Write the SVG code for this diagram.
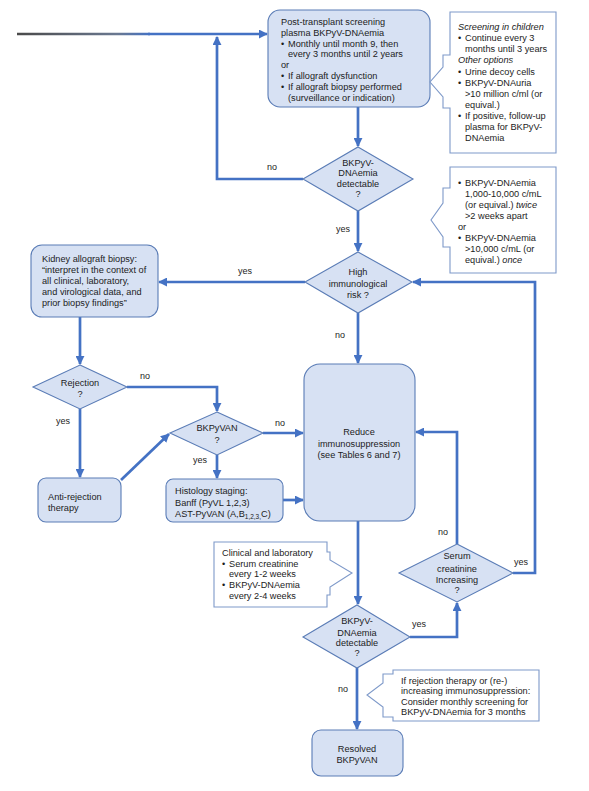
<svg xmlns="http://www.w3.org/2000/svg" width="589" height="791" viewBox="0 0 589 791">
<defs>
<style>
text{font-family:"Liberation Sans",Arial,sans-serif;font-size:9.2px;fill:#1c1c1c}
.c{text-anchor:middle}
.i{font-style:italic}
.node{fill:#d7e1f3;stroke:#5a7cb6;stroke-width:1.1}
.call{fill:#fff;stroke:#7e99c9;stroke-width:1.1}
.con{fill:none;stroke:#4472c4;stroke-width:2.7}
.lbl{font-size:9px}
</style>
<marker id="ah" viewBox="0 0 10 10" refX="9" refY="5" markerWidth="9" markerHeight="9" markerUnits="userSpaceOnUse" orient="auto">
<path d="M0,0 L10,5 L0,10 z" fill="#4472c4"/>
</marker>
<linearGradient id="lg" gradientUnits="userSpaceOnUse" x1="17" y1="0" x2="150" y2="0">
<stop offset="0" stop-color="#4a4a4a"/>
<stop offset="0.75" stop-color="#6a7890"/>
<stop offset="1" stop-color="#4472c4"/>
</linearGradient>
</defs>

<g id="connectors">
<path d="M17,34 H150" fill="none" stroke="url(#lg)" stroke-width="2.4"/>
<path class="con" d="M148,34 H267" marker-end="url(#ah)"/>
<path class="con" d="M303,179 H217 V37" marker-end="url(#ah)"/>
<path class="con" d="M358,107 V146" marker-end="url(#ah)"/>
<path class="con" d="M358,211 V251" marker-end="url(#ah)"/>
<path class="con" d="M305,282 H159" marker-end="url(#ah)"/>
<path class="con" d="M80,317 V364" marker-end="url(#ah)"/>
<path class="con" d="M127,387 H217 V411" marker-end="url(#ah)"/>
<path class="con" d="M80,409 V477" marker-end="url(#ah)"/>
<path class="con" d="M121,480 L169,434" marker-end="url(#ah)"/>
<path class="con" d="M263,433 H303" marker-end="url(#ah)"/>
<path class="con" d="M217,455 V478" marker-end="url(#ah)"/>
<path class="con" d="M283,500 H303" marker-end="url(#ah)"/>
<path class="con" d="M358,313 V363" marker-end="url(#ah)"/>
<path class="con" d="M358,521 V604" marker-end="url(#ah)"/>
<path class="con" d="M410,637 H457 V603" marker-end="url(#ah)"/>
<path class="con" d="M457,544 V432 H416" marker-end="url(#ah)"/>
<path class="con" d="M513,573 H535 V282 H413" marker-end="url(#ah)"/>
<path class="con" d="M357,668 V729" marker-end="url(#ah)"/>
<text class="c lbl" x="272" y="170">no</text>
<text class="c lbl" x="343" y="232">yes</text>
<text class="c lbl" x="245" y="274">yes</text>
<text class="c lbl" x="340" y="338">no</text>
<text class="c lbl" x="145" y="379">no</text>
<text class="c lbl" x="63" y="424">yes</text>
<text class="c lbl" x="280" y="426">no</text>
<text class="c lbl" x="200" y="463">yes</text>
<text class="c lbl" x="443" y="535">no</text>
<text class="c lbl" x="521" y="565">yes</text>
<text class="c lbl" x="419" y="627">yes</text>
<text class="c lbl" x="343" y="692">no</text>
</g>

<g id="screening">
<rect class="node" x="268" y="10" width="162" height="97" rx="12"/>
<text x="281" y="25">Post-transplant screening</text>
<text x="281" y="35.8">plasma BKPyV-DNAemia</text>
<text x="281" y="46.6">•</text><text x="288" y="46.6">Monthly until month 9, then</text>
<text x="288" y="57.4">every 3 months until 2 years</text>
<text x="281" y="68.2">or</text>
<text x="281" y="79">•</text><text x="288" y="79">If allograft dysfunction</text>
<text x="281" y="89.8">•</text><text x="288" y="89.8">If allograft biopsy performed</text>
<text x="288" y="100.6">(surveillance or indication)</text>
</g>

<g id="callout-children">
<path class="call" d="M450,12 H556 V153 H450 V108 H443 V97 L430,82 L443,67 V55 H450 Z"/>
<text class="i" x="458" y="30">Screening in children</text>
<text x="458" y="41">•</text><text x="465" y="41">Continue every 3</text>
<text x="465" y="52">months until 3 years</text>
<text class="i" x="458" y="63">Other options</text>
<text x="458" y="74.5">•</text><text x="465" y="74.5">Urine decoy cells</text>
<text x="458" y="85.5">•</text><text x="465" y="85.5">BKPyV-DNAuria</text>
<text x="465" y="96.5">&gt;10 million c/ml (or</text>
<text x="465" y="107.5">equival.)</text>
<text x="458" y="119">•</text><text x="465" y="119">If positive, follow-up</text>
<text x="465" y="130">plasma for BKPyV-</text>
<text x="465" y="141">DNAemia</text>
</g>

<g id="dnaemia1">
<polygon class="node" points="358,147 413,179 358,211 303,179"/>
<text class="c" x="358" y="165.5">BKPyV-</text>
<text class="c" x="358" y="176">DNAemia</text>
<text class="c" x="358" y="187">detectable</text>
<text class="c" x="358" y="197">?</text>
</g>

<g id="callout-risk">
<path class="call" d="M450,167 H556 V273 H450 V247 H443 V237 L431,220 L443,203 V188 H450 Z"/>
<text x="458" y="186">•</text><text x="465" y="186">BKPyV-DNAemia</text>
<text x="465" y="197">1,000-10,000 c/mL</text>
<text x="465" y="208">(or equival.) <tspan class="i">twice</tspan></text>
<text x="465" y="219">&gt;2 weeks apart</text>
<text x="458" y="230">or</text>
<text x="458" y="240.5">•</text><text x="465" y="240.5">BKPyV-DNAemia</text>
<text x="465" y="251.5">&gt;10,000 c/mL (or</text>
<text x="465" y="262.5">equival.) <tspan class="i">once</tspan></text>
</g>

<g id="highrisk">
<polygon class="node" points="358,252 412,282 358,313 305,282"/>
<text class="c" x="358" y="275">High</text>
<text class="c" x="358" y="286.5">immunological</text>
<text class="c" x="358" y="298">risk ?</text>
</g>

<g id="biopsy">
<rect class="node" x="31" y="245" width="127" height="72" rx="11"/>
<text x="42" y="261.5">Kidney allograft biopsy:</text>
<text x="42" y="272.5">“interpret in the context of</text>
<text x="42" y="283.5">all clinical, laboratory,</text>
<text x="42" y="294.5">and virological data, and</text>
<text x="42" y="305.5">prior biopsy findings”</text>
</g>

<g id="rejection">
<polygon class="node" points="80,365 127,387 80,409 33,387"/>
<text class="c" x="80" y="386">Rejection</text>
<text class="c" x="80" y="397">?</text>
</g>

<g id="bkpyvan">
<polygon class="node" points="217,412 263,433 217,455 170,433"/>
<text class="c" x="217" y="431">BKPyVAN</text>
<text class="c" x="217" y="443">?</text>
</g>

<g id="antirejection">
<rect class="node" x="38" y="478" width="83" height="44" rx="8"/>
<text x="48" y="500">Anti-rejection</text>
<text x="48" y="510.5">therapy</text>
</g>

<g id="histology">
<rect class="node" x="166" y="479" width="117" height="43" rx="7"/>
<text x="175" y="494">Histology staging:</text>
<text x="175" y="505.5">Banff (PyVL 1,2,3)</text>
<text x="175" y="516.5">AST-PyVAN (A,B<tspan font-size="6.5" dy="2">1,2,3,</tspan><tspan dy="-2">C)</tspan></text>
</g>

<g id="reduce">
<rect class="node" x="304" y="364" width="111" height="157" rx="16"/>
<text class="c" x="359" y="435">Reduce</text>
<text class="c" x="359" y="446.5">immunosuppression</text>
<text class="c" x="359" y="458">(see Tables 6 and 7)</text>
</g>

<g id="callout-clinical">
<path class="call" d="M214,542 H327 V552 H330 V560 L352,573 L330,587 V595 H327 V607 H214 Z"/>
<text x="222" y="556">Clinical and laboratory</text>
<text x="222" y="566.5">•</text><text x="229" y="566.5">Serum creatinine</text>
<text x="229" y="576.5">every 1-2 weeks</text>
<text x="222" y="587.5">•</text><text x="229" y="587.5">BKPyV-DNAemia</text>
<text x="229" y="599">every 2-4 weeks</text>
</g>

<g id="serum">
<polygon class="node" points="457,544 513,573 457,602 399,573"/>
<text class="c" x="457" y="559">Serum</text>
<text class="c" x="457" y="571.5">creatinine</text>
<text class="c" x="457" y="582.5">Increasing</text>
<text class="c" x="457" y="592.5">?</text>
</g>

<g id="dnaemia2">
<polygon class="node" points="357,605 410,637 357,668 303,637"/>
<text class="c" x="357" y="624">BKPyV-</text>
<text class="c" x="357" y="635.5">DNAemia</text>
<text class="c" x="357" y="646">detectable</text>
<text class="c" x="357" y="656">?</text>
</g>

<g id="callout-rescreen">
<path class="call" d="M393,670 H539 V721 H393 V717 H383 V707 L367,695 L383,683 V674 H393 Z"/>
<text x="401" y="683.5">If rejection therapy or (re-)</text>
<text x="401" y="694">increasing immunosuppression:</text>
<text x="401" y="704.5">Consider monthly screening for</text>
<text x="401" y="715">BKPyV-DNAemia for 3 months</text>
</g>

<g id="resolved">
<rect class="node" x="312" y="730" width="91" height="46" rx="9"/>
<text class="c" x="357" y="751.5">Resolved</text>
<text class="c" x="357" y="762.5">BKPyVAN</text>
</g>
</svg>
